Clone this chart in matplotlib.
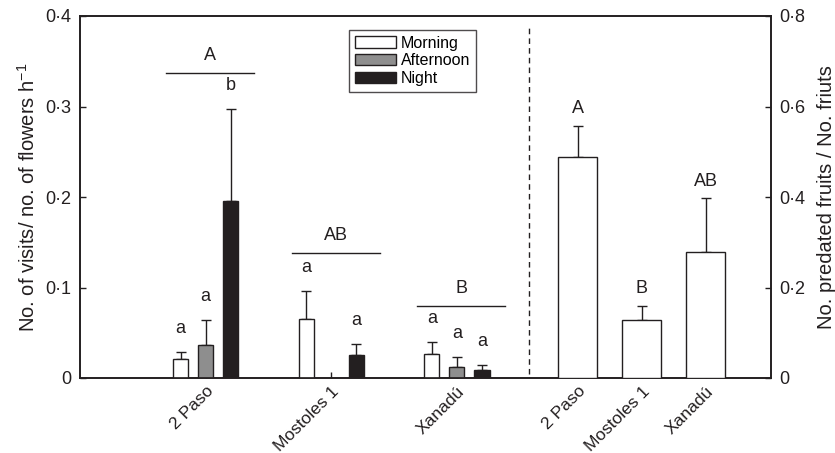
import numpy as np
import matplotlib
matplotlib.use('Agg')
import matplotlib.pyplot as plt
from matplotlib.ticker import FuncFormatter

plt.rcParams['font.family'] = ['Liberation Sans', 'DejaVu Sans']
plt.rcParams['font.size'] = 10
plt.rcParams['mathtext.fontset'] = 'custom'
plt.rcParams['mathtext.rm'] = 'Liberation Sans'

# visits per flower per hour (left panel)
sites = ['2 Paso', 'Mostoles 1', 'Xanadú']
periods = ['Morning', 'Afternoon', 'Night']
visits = {
    'Morning': [0.021, 0.065, 0.026],
    'Afternoon': [0.037, 0.0, 0.012],
    'Night': [0.196, 0.0255, 0.009],
}
visits_err = {
    'Morning': [0.008, 0.031, 0.0135],
    'Afternoon': [0.0276, 0.0, 0.011],
    'Night': [0.1015, 0.0125, 0.0057],
}
visit_letters = {
    'Morning': ['a', 'a', 'a'],
    'Afternoon': ['a', '', 'a'],
    'Night': ['b', 'a', 'a'],
}
site_letters = ['A', 'AB', 'B']
site_line_y = [0.337, 0.138, 0.080]

# predated fruits (right panel)
predated = [0.488, 0.128, 0.279]
predated_err = [0.069, 0.031, 0.118]
predated_letters = ['A', 'B', 'AB']

colors = {'Morning': 'white', 'Afternoon': '#8e8e8e', 'Night': '#231f20'}
ink = '#231f20'

fig = plt.figure(figsize=(8.35, 4.53), dpi=100)
ax = fig.add_axes([80 / 835, 1 - 378 / 453, 691 / 835, 362 / 453])
ax2 = ax.twinx()

centers = np.arange(1, 4)
offsets = {'Morning': -0.2, 'Afternoon': 0.0, 'Night': 0.2}
w = 0.12
for p in periods:
    xs = centers + offsets[p]
    vals = np.array(visits[p])
    errs = np.array(visits_err[p])
    for x, v, e, lab in zip(xs, vals, errs, visit_letters[p]):
        if v <= 0:
            continue
        ax.bar(x, v, w, color=colors[p], edgecolor=ink, linewidth=1.0, zorder=3)
        ax.errorbar(x, v, yerr=[[0], [e]], fmt='none', ecolor=ink,
                    elinewidth=1.0, capsize=3.5, capthick=1.0, zorder=2)
        ax.text(x, v + e + 0.026, lab, ha='center', va='center', fontsize=13, color=ink)

for c, lab, ly in zip(centers, site_letters, site_line_y):
    ax.plot([c + 0.035 - 0.35, c + 0.035 + 0.35], [ly, ly], color=ink, lw=1.0)
    ax.text(c + 0.035, ly + 0.019, lab, ha='center', va='center', fontsize=13, color=ink)

# right panel bars
rx = np.array([3.96, 4.47, 4.98])
ax2.bar(rx, predated, 0.31, color='white', edgecolor=ink, linewidth=1.0, zorder=3)
ax2.errorbar(rx, predated, yerr=[np.zeros(3), predated_err], fmt='none', ecolor=ink,
             elinewidth=1.0, capsize=3.5, capthick=1.0, zorder=2)
for x, v, e, lab in zip(rx, predated, predated_err, predated_letters):
    ax2.text(x, v + e + 0.038, lab, ha='center', va='center', fontsize=13, color=ink)

ax.axvline(3.575, ymin=0.01, ymax=0.97, color=ink, lw=1.0, ls=(0, (4, 3)))

ax.set_xlim(0, 5.5)
ax.set_ylim(0, 0.4)
ax2.set_ylim(0, 0.8)
ax.set_yticks([0, 0.1, 0.2, 0.3, 0.4])
ax2.set_yticks([0, 0.2, 0.4, 0.6, 0.8])

fmt = FuncFormatter(lambda v, pos: '0' if abs(v) < 1e-9 else ('%.1f' % v).replace('.', '·'))
ax.yaxis.set_major_formatter(fmt)
ax2.yaxis.set_major_formatter(fmt)

ax.set_xticks(list(centers) + list(rx))
ax.set_xticklabels(sites + sites, rotation=45, ha='right', va='top',
                   rotation_mode='anchor', fontsize=12.5)

for a in (ax, ax2):
    a.tick_params(direction='in', length=4, width=1.0, colors=ink)
    a.tick_params(axis='y', labelsize=13, pad=6)
    for s in a.spines.values():
        s.set_linewidth(1.2)
        s.set_color(ink)
ax.tick_params(axis='x', pad=4)

ax.set_ylabel('No. of visits/ no. of flowers h$^{\\mathregular{-1}}$', fontsize=14.5,
              labelpad=5, color=ink)
ax2.set_ylabel('No. predated fruits / No. friuts', fontsize=14.5, labelpad=8, color=ink)

handles = [plt.Rectangle((0, 0), 1, 1, facecolor=colors[p], edgecolor=ink, lw=1.0)
           for p in periods]
leg = ax.legend(handles, periods, loc='upper left', bbox_to_anchor=(269 / 691, 1 - 14 / 362),
                frameon=True, fancybox=False, edgecolor=ink, fontsize=11.5,
                handlelength=2.6, handleheight=0.7, labelspacing=0.18, borderpad=0.35,
                handletextpad=0.3, borderaxespad=0)
leg.get_frame().set_linewidth(1.0)

fig.savefig('out.png', dpi=100)
